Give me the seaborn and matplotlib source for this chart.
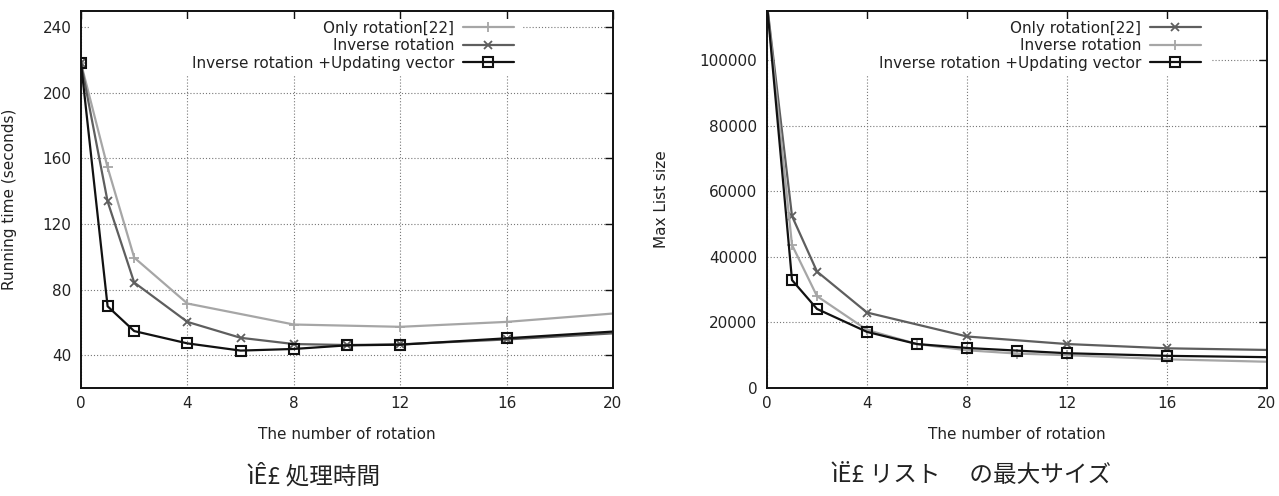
import matplotlib
matplotlib.use("Agg")
import matplotlib.pyplot as plt
import matplotlib.patches as mpatches
import seaborn as sns
import pandas as pd

# ---------------- data ----------------
x_only = [0, 1, 2, 4, 8, 12, 16, 20]
x_full = [0, 1, 2, 4, 6, 8, 10, 12, 16, 20]

# (a) running time (seconds)
time_only = [218, 154.5, 99.5, 71.5, 58.7, 57.3, 60.3, 65.4]
time_inverse = [218, 133.7, 84.3, 60.3, 50.6, 46.8, 46.2, 46.6, 49.6, 53.3]
time_update = [218, 69.8, 54.7, 47.2, 42.8, 43.8, 46.0, 46.4, 50.3, 54.4]

# (b) max list size
size_only = [117000, 52400, 35500, 23000, 15700, 13400, 12100, 11600]
size_inverse = [117000, 43600, 28000, 17700, 13400, 11500, 10500, 10000, 8750, 8000]
size_update = [117000, 32900, 24100, 17100, 13400, 12200, 11400, 10600, 9800, 9400]

xticks = [0, 4, 8, 12, 16, 20]
yticks_time = [40, 80, 120, 160, 200, 240]
yticks_size = [0, 20000, 40000, 60000, 80000, 100000]

lab_only = "Only rotation[22]"
lab_inv = "Inverse rotation"
lab_upd = "Inverse rotation +Updating vector"

xlabel = "The number of rotation"
ylabel_time = "Running time (seconds)"
ylabel_size = "Max List size"
cap_a = "ìÊ£ 処理時間"
cap_b = "ìË£ リスト\u3000 の最大サイズ"

# ---------------- style ----------------
sns.set_theme(style="white")
plt.rcParams["font.family"] = ["DejaVu Sans", "Noto Sans CJK JP"]
plt.rcParams["text.color"] = "#222222"
plt.rcParams["axes.labelcolor"] = "#222222"
plt.rcParams["xtick.color"] = "#222222"
plt.rcParams["ytick.color"] = "#222222"

LIGHT = "#a6a6a6"
DARK = "#5e5e5e"
BLACK = "#111111"
FS = 11

W, H = 1279, 496
fig = plt.figure(figsize=(W / 100, H / 100), dpi=100)

def px_axes(x0, x1, y0, y1):
    return fig.add_axes([x0 / W, 1 - y1 / H, (x1 - x0) / W, (y1 - y0) / H])

ax1 = px_axes(81, 613, 10.7, 388)
ax2 = px_axes(767, 1267, 10.7, 388)


def draw(ax, x, y, color, marker, label, ms, mfc, mew):
    df = pd.DataFrame({"x": x, "y": y})
    sns.lineplot(data=df, x="x", y="y", ax=ax, color=color, linewidth=1.6,
                 marker=marker, markersize=ms, markeredgewidth=mew,
                 markeredgecolor=color, markerfacecolor=mfc,
                 markevery=slice(0, len(x) - 1), label=label, zorder=3)


draw(ax1, x_only, time_only, LIGHT, "+", lab_only, 7.5, LIGHT, 1.3)
draw(ax1, x_full, time_inverse, DARK, "x", lab_inv, 6, DARK, 1.3)
draw(ax1, x_full, time_update, BLACK, "s", lab_upd, 7, "none", 1.5)

draw(ax2, x_only, size_only, DARK, "x", lab_only, 6, DARK, 1.3)
draw(ax2, x_full, size_inverse, LIGHT, "+", lab_inv, 7.5, LIGHT, 1.3)
draw(ax2, x_full, size_update, BLACK, "s", lab_upd, 7, "none", 1.5)

configs = [
    (ax1, (20, 250), yticks_time, ylabel_time, -0.135, 0.814, 0.831),
    (ax2, (0, 115000), yticks_size, ylabel_size, -0.212, 0.868, 0.888),
]
for ax, ylim, yt, ylab, ylx, legx, rectx in configs:
    ax.set_xlim(0, 20)
    ax.set_ylim(*ylim)
    ax.set_xticks(xticks)
    ax.set_yticks(yt)
    ax.set_xticklabels([str(v) for v in xticks])
    ax.set_yticklabels([str(v) for v in yt])
    ax.tick_params(direction="in", length=6, width=1.0, top=True, right=True,
                   labelsize=FS, color="#111111")
    ax.tick_params(axis="y", pad=7)
    ax.tick_params(axis="x", pad=6)
    ax.grid(True, linestyle=(0, (1, 1.8)), color="#777777", linewidth=0.8)
    ax.set_axisbelow(True)
    for s in ax.spines.values():
        s.set_color("#111111")
        s.set_linewidth(1.4)
        s.set_zorder(4)
    ax.set_xlabel(xlabel, fontsize=FS)
    ax.set_ylabel(ylab, fontsize=FS)
    ax.xaxis.set_label_coords(0.5, -0.122)
    ax.xaxis.label.set_va("center")
    ax.yaxis.set_label_coords(ylx, 0.5)
    ax.yaxis.label.set_va("center")
    # opaque key area hiding the grid behind the legend
    ax.add_patch(mpatches.Rectangle((0.016, 0.83), rectx - 0.016, 0.147,
                                    transform=ax.transAxes, facecolor="white",
                                    edgecolor="none", zorder=1))
    leg = ax.legend(loc="upper right", bbox_to_anchor=(legx, 0.974), frameon=False,
                    markerfirst=False, fontsize=FS, handlelength=3.35,
                    handletextpad=0.55, labelspacing=0.17, borderpad=0,
                    borderaxespad=0)
    for t in leg.get_texts():
        t.set_ha("right")

cap_font = ["Noto Sans CJK JP", "DejaVu Sans"]
fig.text(314 / W, 1 - 476 / H, cap_a, ha="center", va="center", fontsize=17,
         family=cap_font)
fig.text(972 / W, 1 - 476 / H, cap_b, ha="center", va="center", fontsize=17,
         family=cap_font)

fig.savefig("out.png", dpi=100)
